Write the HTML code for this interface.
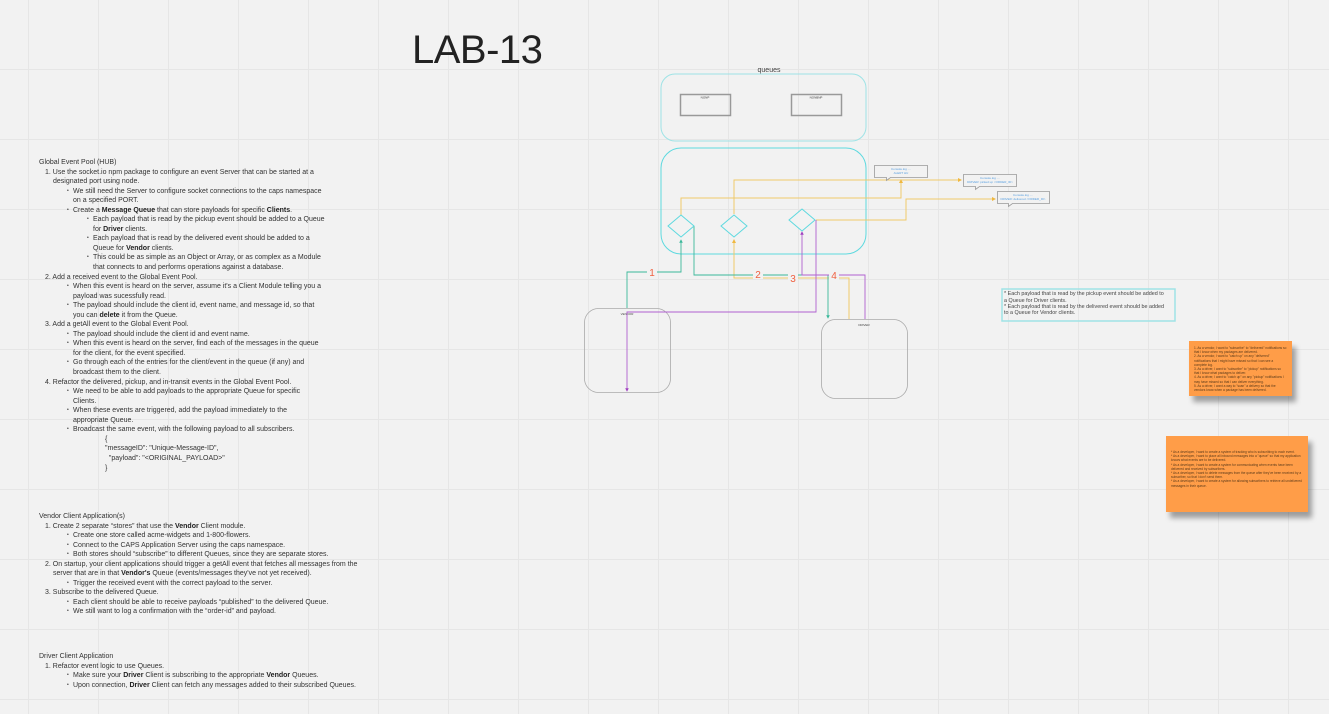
<!DOCTYPE html>
<html><head><meta charset="utf-8"><style>
body{margin:0;width:1329px;height:714px;overflow:hidden;background:#f2f2f2;position:relative;font-family:"Liberation Sans",sans-serif}
.grid{position:absolute;inset:0;background-image:linear-gradient(to right,#e6e6e6 1px,transparent 1px),linear-gradient(to bottom,#e6e6e6 1px,transparent 1px);background-size:70px 70px;background-position:28px -1px}
.t{position:absolute;font-size:7px;color:#333;white-space:nowrap;line-height:9.55px}
.t div{height:9.55px;position:relative}
.b,.bi{padding-left:34px}.c,.ci{padding-left:54px}.j{padding-left:66px}
.l1{padding-left:6px}.l1i{padding-left:14px}
b{font-weight:bold;color:#222}
.b::before,.c::before{content:"•";font-size:5px;position:absolute;top:0}
.b::before{left:28px}.c::before{left:48px}
.note{position:absolute;background:#ff9d48;box-shadow:4px 6px 5px rgba(0,0,0,.35);font-size:3.2px;line-height:4.2px;color:#5a3a1a;padding:3px 5px;box-sizing:border-box}
</style></head><body>
<div class="grid"></div>
<div style="position:absolute;left:412px;top:28px;font-size:40px;color:#222;letter-spacing:-0.5px">LAB-13</div>

<div class="t" style="left:39px;top:158px">
<div>Global Event Pool (HUB)</div>
<div class="l1">1. Use the socket.io npm package to configure an event Server that can be started at a</div>
<div class="l1i">designated port using node.</div>
<div class="b">We still need the Server to configure socket connections to the caps namespace</div>
<div class="bi">on a specified PORT.</div>
<div class="b">Create a <b>Message Queue</b> that can store payloads for specific <b>Clients</b>.</div>
<div class="c">Each payload that is read by the pickup event should be added to a Queue</div>
<div class="ci">for <b>Driver</b> clients.</div>
<div class="c">Each payload that is read by the delivered event should be added to a</div>
<div class="ci">Queue for <b>Vendor</b> clients.</div>
<div class="c">This could be as simple as an Object or Array, or as complex as a Module</div>
<div class="ci">that connects to and performs operations against a database.</div>
<div class="l1">2. Add a received event to the Global Event Pool.</div>
<div class="b">When this event is heard on the server, assume it's a Client Module telling you a</div>
<div class="bi">payload was sucessfully read.</div>
<div class="b">The payload should include the client id, event name, and message id, so that</div>
<div class="bi">you can <b>delete</b> it from the Queue.</div>
<div class="l1">3. Add a getAll event to the Global Event Pool.</div>
<div class="b">The payload should include the client id and event name.</div>
<div class="b">When this event is heard on the server, find each of the messages in the queue</div>
<div class="bi">for the client, for the event specified.</div>
<div class="b">Go through each of the entries for the client/event in the queue (if any) and</div>
<div class="bi">broadcast them to the client.</div>
<div class="l1">4. Refactor the delivered, pickup, and in-transit events in the Global Event Pool.</div>
<div class="b">We need to be able to add payloads to the appropriate Queue for specific</div>
<div class="bi">Clients.</div>
<div class="b">When these events are triggered, add the payload immediately to the</div>
<div class="bi">appropriate Queue.</div>
<div class="b">Broadcast the same event, with the following payload to all subscribers.</div>
<div class="j">{</div>
<div class="j">"messageID": "Unique-Message-ID",</div>
<div class="j">&nbsp;&nbsp;"payload": "&lt;ORIGINAL_PAYLOAD&gt;"</div>
<div class="j">}</div>
</div>

<div class="t" style="left:39px;top:512px">
<div>Vendor Client Application(s)</div>
<div class="l1">1. Create 2 separate “stores” that use the <b>Vendor</b> Client module.</div>
<div class="b">Create one store called acme-widgets and 1-800-flowers.</div>
<div class="b">Connect to the CAPS Application Server using the caps namespace.</div>
<div class="b">Both stores should “subscribe” to different Queues, since they are separate stores.</div>
<div class="l1">2. On startup, your client applications should trigger a getAll event that fetches all messages from the</div>
<div class="l1i">server that are in that <b>Vendor's</b> Queue (events/messages they've not yet received).</div>
<div class="b">Trigger the received event with the correct payload to the server.</div>
<div class="l1">3. Subscribe to the delivered Queue.</div>
<div class="b">Each client should be able to receive payloads “published” to the delivered Queue.</div>
<div class="b">We still want to log a confirmation with the “order-id” and payload.</div>
</div>

<div class="t" style="left:39px;top:652px">
<div>Driver Client Application</div>
<div class="l1">1. Refactor event logic to use Queues.</div>
<div class="b">Make sure your <b>Driver</b> Client is subscribing to the appropriate <b>Vendor</b> Queues.</div>
<div class="b">Upon connection, <b>Driver</b> Client can fetch any messages added to their subscribed Queues.</div>
</div>

<svg width="1329" height="714" style="position:absolute;left:0;top:0" font-family="Liberation Sans, sans-serif">
<defs>
<marker id="ag" markerWidth="4" markerHeight="4" refX="2" refY="2" orient="auto"><path d="M0,0L4,2L0,4z" fill="#3bb89a"/></marker>
<marker id="ay" markerWidth="4" markerHeight="4" refX="2" refY="2" orient="auto"><path d="M0,0L4,2L0,4z" fill="#f0b840"/></marker>
<marker id="ap" markerWidth="4" markerHeight="4" refX="2" refY="2" orient="auto"><path d="M0,0L4,2L0,4z" fill="#a040c0"/></marker>
</defs>
<text x="769" y="72" font-size="7" fill="#444" text-anchor="middle">queues</text>
<rect x="661" y="74" width="205" height="67" rx="14" fill="none" stroke="#9fe3e6" stroke-width="1"/>
<rect x="680.5" y="94.5" width="50" height="21" fill="none" stroke="#999" stroke-width="1.5"/>
<rect x="791.5" y="94.5" width="50" height="21" fill="none" stroke="#999" stroke-width="1.5"/>
<text x="705" y="98.5" font-size="3" fill="#333" text-anchor="middle">NONP</text>
<text x="816" y="98.5" font-size="3" fill="#333" text-anchor="middle">NONBNP</text>
<rect x="661" y="148" width="205" height="106" rx="20" fill="none" stroke="#5ed9df" stroke-width="1"/>
<rect x="584.5" y="308.5" width="86" height="84" rx="14" fill="none" stroke="#aaa" stroke-width="0.8"/>
<rect x="821.5" y="319.5" width="86" height="79" rx="14" fill="none" stroke="#aaa" stroke-width="0.8"/>
<text x="627" y="315" font-size="3" fill="#444" text-anchor="middle">VENDOR</text>
<text x="864" y="326" font-size="3" fill="#444" text-anchor="middle">DRIVER</text>
<g fill="none" stroke="#f0c96a" stroke-width="1">
<path d="M681 216V198H901V181" marker-end="url(#ay)"/>
<path d="M734 214V180H960" marker-end="url(#ay)"/>
<path d="M816 220H906V199H994" marker-end="url(#ay)"/>
<path d="M849 319V278H734V241" marker-end="url(#ay)"/>
</g>
<g fill="none" stroke="#3bb89a" stroke-width="0.9">
<path d="M627 308V272H681V241" marker-end="url(#ag)"/>
<path d="M694 226V275H828V317" marker-end="url(#ag)"/>
</g>
<g fill="none" stroke="#b060d0" stroke-width="0.9">
<path d="M865 319V275H802V233" marker-end="url(#ap)"/>
<path d="M816 220V312H627V390" marker-end="url(#ap)"/>
</g>
<g fill="#f2f2f2" stroke="#5ed9df" stroke-width="1">
<path d="M681 215L694 226L681 237L668 226Z"/>
<path d="M734 215L747 226L734 237L721 226Z"/>
<path d="M802 209L815 220L802 231L789 220Z"/>
</g>
<g font-size="10" fill="#f06040" text-anchor="middle">
<rect x="647" y="266" width="10" height="11" fill="#f2f2f2"/><text x="652" y="276">1</text>
<rect x="753" y="268" width="10" height="11" fill="#f2f2f2"/><text x="758" y="278">2</text>
<rect x="788" y="272" width="10" height="11" fill="#f2f2f2"/><text x="793" y="282">3</text>
<rect x="829" y="269" width="10" height="11" fill="#f2f2f2"/><text x="834" y="279">4</text>
</g>
<g fill="#f2f2f2" stroke="#999" stroke-width="0.8">
<path d="M874.5 165.5h53v12h-37l-4 3v-3h-12z"/>
<path d="M963.5 174.5h53v12h-37l-4 3v-3h-12z"/>
<path d="M997.5 191.5h52v12h-37l-4 3v-3h-11z"/>
</g>
<g font-size="3" fill="#5aa0e0" text-anchor="middle">
<text x="901" y="170">Console.log ....</text><text x="901" y="174">ALERT HU</text>
<text x="990" y="179">Console.log ....</text><text x="990" y="183">DRIVER: picked up &lt;ORDER_ID&gt;</text>
<text x="1023" y="196">Console.log ....</text><text x="1023" y="200">DRIVER: delivered &lt;ORDER_ID&gt;</text>
</g>
<rect x="1002" y="289" width="173" height="32" fill="none" stroke="#9fe3e6" stroke-width="1.5"/>
<g font-size="5.4" fill="#444"><text x="1004" y="295">* Each payload that is read by the pickup event should be added to</text><text x="1004" y="302">a Queue for Driver clients.</text><text x="1004" y="308">* Each payload that is read by the delivered event should be added</text><text x="1004" y="314">to a Queue for Vendor clients.</text></g>
</svg>

<div class="note" style="left:1189px;top:341px;width:103px;height:55px;padding-top:5px">
1. As a vendor, I want to "subscribe" to "delivered" notifications so that I know when my packages are delivered.<br>2. As a vendor, I want to "catch up" on any "delivered" notifications that I might have missed so that I can see a complete log.<br>3. As a driver, I want to "subscribe" to "pickup" notifications so that I know what packages to deliver.<br>4. As a driver, I want to "catch up" on any "pickup" notifications I may have missed so that I can deliver everything.<br>5. As a driver, I want a way to "scan" a delivery so that the vendors know when a package has been delivered.
</div>
<div class="note" style="left:1166px;top:436px;width:142px;height:76px;padding-top:14px">
* As a developer, I want to create a system of tracking who is subscribing to each event.<br>* As a developer, I want to place all inbound messages into a "queue" so that my application knows what events are to be delivered.<br>* As a developer, I want to create a system for communicating when events have been delivered and received by subscribers.<br>* As a developer, I want to delete messages from the queue after they've been received by a subscriber, so that I don't send them.<br>* As a developer, I want to create a system for allowing subscribers to retrieve all undelivered messages in their queue.
</div>
</body></html>
